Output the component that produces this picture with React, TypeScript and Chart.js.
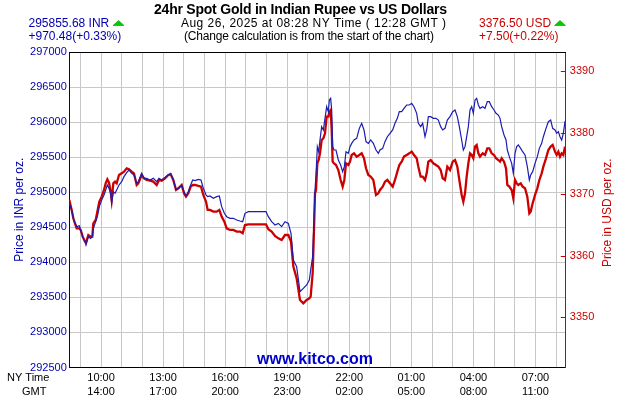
import React, { useEffect, useRef } from 'react';
import { Chart, registerables } from 'chart.js';

Chart.register(...registerables);

// minutes after the chart start (08:28 NY time)
const MINUTES = [
  0, 6.9, 11.7, 16.5, 21.4, 29.1, 33.0, 38.8, 45.5, 48.4,
  55.2, 61.9, 66.8, 69.7, 76.5, 81.3, 87.1, 93.9, 100.6, 105.5,
  110.3, 115.1, 120.0, 122.9, 127.7, 132.6, 137.4, 144.2, 151.9, 158.6,
  166.4, 173.2, 180.9, 187.6, 195.4, 200.2, 209.9, 216.7, 224.4, 234.1,
  243.7, 253.4, 260.2, 267.9, 277.6, 287.2, 294.0, 301.7, 309.5, 316.2,
  325.9, 332.7, 338.5, 345.2, 352.0, 357.8, 364.6, 374.2, 382.0, 388.7,
  396.5, 401.3, 408.1, 417.7, 427.4, 435.1, 441.9, 449.7, 456.4, 466.1,
  475.8, 485.4, 495.1, 502.8, 509.6, 519.3, 543.4, 570.5, 577.3, 586.9,
  596.6, 606.3, 615.9, 625.6, 635.3, 643.0, 649.8, 659.4,
  669.1, 678.8, 688.4, 696.2, 700.0, 705.8, 709.7, 712.6, 715.5, 719.4,
  723.2, 727.1, 731.9, 736.8, 741.6, 746.4, 751.3, 754.2, 758.0, 761.0,
  763.8, 767.7, 773.5, 780.3, 787.0, 792.8, 797.7, 802.5, 809.3, 814.1,
  819.0, 825.7, 833.5, 841.2, 848.0, 854.7, 860.5, 867.3, 874.1, 881.8,
  889.5, 896.3, 901.1, 908.9, 915.6, 922.4, 930.1, 937.9, 944.6, 951.4,
  957.2, 964.0, 970.7, 978.5, 986.2, 993.0, 999.7, 1007.5, 1012.3, 1019.1,
  1024.9, 1031.6, 1036.5, 1041.3, 1048.1, 1055.8, 1063.5, 1070.3, 1077.1, 1082.9,
  1089.6, 1096.4, 1104.2, 1111.9, 1118.7, 1125.4, 1131.2, 1138.0, 1142.8, 1147.7,
  1152.5, 1157.3, 1162.2, 1167.0, 1171.8, 1176.7, 1181.5, 1186.4, 1191.2, 1198.9,
  1205.7, 1212.4, 1218.2, 1225.0, 1231.8, 1237.6, 1244.3, 1249.2, 1254.0, 1260.8,
  1266.6, 1270.4, 1276.2, 1283.0, 1287.8, 1292.7, 1297.5, 1302.3, 1309.1, 1314.9,
  1321.7, 1328.4, 1334.2, 1338.1, 1343.9, 1350.7, 1357.4, 1363.3, 1370.0, 1374.9,
  1382.6, 1389.4, 1396.1, 1401.9, 1408.7, 1413.5, 1418.4, 1423.2, 1428.0, 1432.9,
  1437.7, 1440,
];

// gold price in INR per oz.
const INR = [
  294842, 294747, 294628, 294556, 294509, 294523, 294461, 294366, 294295, 294247,
  294366, 294342, 294366, 294485, 294580, 294651, 294794, 294889, 294960, 295032,
  295103, 295056, 294984, 294842, 295008, 294984, 295032, 295103, 295151, 295222,
  295279, 295317, 295269, 295246, 295127, 295151, 295269, 295198, 295198, 295174,
  295198, 295151, 295198, 295174, 295212, 295246, 295269, 295174, 295041, 295056,
  295103, 295008, 294946, 295008, 295103, 295174, 295165, 295184, 295174, 295056,
  294960, 294937, 294946, 294913, 294937, 294946, 294794, 294699, 294651, 294628,
  294628, 294604, 294590, 294580, 294699, 294723, 294723, 294723, 294651, 294580,
  294533, 294556, 294509, 294580, 294556, 294414, 294033, 293938,
  293582, 293629, 293677, 293748, 293891, 294081, 294604, 295032, 295246, 295650,
  295578, 295745, 295935, 295888, 296054, 296220, 296149, 296315, 296339, 296173,
  295650, 295602, 295602, 295460, 295388, 295293, 295365, 295578, 295555, 295650,
  295697, 295745, 295769, 295911, 295983, 295888, 295721, 295697, 295745, 295697,
  295602, 295555, 295602, 295626, 295721, 295792, 295840, 295888, 295983, 296054,
  296149, 296149, 296197, 296244, 296244, 296268, 296220, 296125, 295983, 295935,
  295983, 295792, 295888, 296078, 296078, 296054, 296054, 296030, 295935, 295888,
  295911, 296030, 296078, 296149, 296173, 296078, 295935, 295745, 295602, 295650,
  295792, 295935, 296173, 296220, 296125, 296315, 296339, 296244, 296197, 296220,
  296197, 296292, 296292, 296220, 296173, 296125, 296101, 296054, 295935, 295816,
  295745, 295602, 295507, 295412, 295269, 295555, 295650, 295674, 295626, 295578,
  295531, 295365, 295174, 295246, 295293, 295412, 295507, 295626, 295697, 295792,
  295911, 296006, 296030, 295911, 295888, 295840, 295864, 295792, 295745, 295840,
  296006, 296030,
];

// gold price in USD per oz.
const USD = [
  3369.05, 3367.42, 3366.06, 3365.25, 3364.43, 3364.43, 3364.16, 3363.07, 3362.26, 3362.09,
  3363.34, 3363.07, 3363.07, 3365.25, 3365.79, 3367.15, 3368.78, 3369.59, 3370.68, 3371.76,
  3372.42, 3371.87, 3370.41, 3369.05, 3371.76, 3372.04, 3371.76, 3373.12, 3373.39, 3373.66,
  3374.21, 3374.04, 3373.66, 3373.39, 3371.49, 3371.76, 3373.12, 3372.58, 3372.31, 3372.20,
  3372.04, 3371.49, 3372.31, 3372.20, 3372.58, 3373.12, 3373.23, 3372.31, 3370.68, 3370.95,
  3371.49, 3370.13, 3369.59, 3370.13, 3371.22, 3371.49, 3371.49, 3371.33, 3371.22, 3369.86,
  3368.78, 3367.42, 3367.42, 3367.15, 3367.15, 3367.42, 3366.33, 3365.52, 3364.43, 3364.16,
  3364.16, 3363.89, 3363.89, 3363.62, 3364.97, 3365.08, 3365.08, 3365.08, 3364.27, 3363.89,
  3363.18, 3362.80, 3362.53, 3363.34, 3363.34, 3362.26, 3358.19, 3356.28,
  3352.75, 3352.21, 3352.75, 3353.02, 3353.30, 3357.10, 3364.16, 3370.13, 3370.68, 3375.02,
  3375.56, 3376.65, 3378.82, 3379.10, 3379.91, 3382.63, 3382.63, 3383.44, 3383.71, 3380.45,
  3375.29, 3375.02, 3374.75, 3373.93, 3372.31, 3371.22, 3372.31, 3375.02, 3374.75, 3375.29,
  3376.38, 3376.65, 3376.11, 3376.38, 3376.65, 3375.84, 3374.21, 3373.12, 3372.85, 3372.31,
  3369.86, 3370.13, 3370.68, 3371.22, 3372.03, 3372.31, 3371.76, 3371.22, 3372.31, 3373.66,
  3374.75, 3375.29, 3376.11, 3376.38, 3376.65, 3376.92, 3376.38, 3375.84, 3374.48, 3372.85,
  3372.85, 3372.31, 3373.39, 3375.29, 3375.56, 3375.02, 3374.75, 3374.48, 3373.93, 3372.58,
  3372.31, 3374.48, 3373.93, 3375.29, 3375.56, 3374.48, 3372.31, 3369.86, 3368.77, 3370.13,
  3372.85, 3375.02, 3376.65, 3376.38, 3375.84, 3377.74, 3378.01, 3376.65, 3376.11, 3376.65,
  3376.38, 3377.47, 3377.47, 3376.65, 3376.38, 3375.84, 3375.56, 3375.29, 3375.84, 3375.29,
  3374.21, 3371.49, 3371.22, 3370.68, 3369.32, 3372.31, 3371.76, 3371.49, 3371.76, 3371.22,
  3370.95, 3369.59, 3366.87, 3367.15, 3368.50, 3369.86, 3370.95, 3372.31, 3373.39, 3374.48,
  3375.84, 3377.19, 3377.74, 3378.01, 3376.92, 3376.38, 3376.92, 3376.11, 3376.65, 3376.38,
  3377.74, 3377.74,
];

const INR_MIN = 292500;
const INR_MAX = 297000;
const INR_STEP = 500;
const USD_TICKS = [3350, 3360, 3370, 3380, 3390];
const START_INR = 294885.2;
const START_USD = 3369.0;
const TOTAL_MINUTES = 1440;
const FIRST_HOUR_MIN = 32; // 09:00 NY
const FIRST_LABEL_MIN = 92; // 10:00 NY
const NY_LABELS = ['10:00', '13:00', '16:00', '19:00', '22:00', '01:00', '04:00', '07:00'];
const GMT_LABELS = ['14:00', '17:00', '20:00', '23:00', '02:00', '05:00', '08:00', '11:00'];

const TITLE = '24hr Spot Gold in Indian Rupee vs US Dollars';
const SUBTITLE = 'Aug 26, 2025 at 08:28 NY Time ( 12:28 GMT )';
const NOTE = '(Change calculation is from the start of the chart)';
const INR_NOW = '295855.68 INR';
const INR_CHANGE = '+970.48(+0.33%)';
const USD_NOW = '3376.50 USD';
const USD_CHANGE = '+7.50(+0.22%)';
const SITE = 'www.kitco.com';

const FONT = '"Liberation Sans", Arial, Helvetica, sans-serif';
const BLUE = '#0000b0';
const LINE_BLUE = '#1c1cae';
const RED = '#cc0000';
const GRID = '#c8c8c8';

const RATE = START_INR / START_USD;
const USD_MIN = INR_MIN / RATE;
const USD_MAX = INR_MAX / RATE;

function triangle(ctx: CanvasRenderingContext2D, x: number, y: number) {
  ctx.save();
  ctx.beginPath();
  ctx.moveTo(x, y + 5);
  ctx.lineTo(x + 5.5, y);
  ctx.lineTo(x + 11, y + 5);
  ctx.closePath();
  ctx.fillStyle = '#00cc00';
  ctx.fill();
  ctx.strokeStyle = '#009900';
  ctx.lineWidth = 0.6;
  ctx.stroke();
  ctx.restore();
}

// draw text left-aligned at a fixed size, spacing letters so it spans [x0, x1]
function spacedText(ctx: CanvasRenderingContext2D, text: string, x0: number, x1: number, y: number, font: string) {
  const c: any = ctx;
  ctx.font = font;
  c.letterSpacing = '0px';
  const w = ctx.measureText(text).width;
  const sp = (x1 - x0 - w) / Math.max(1, text.length - 1);
  c.letterSpacing = `${sp.toFixed(3)}px`;
  ctx.textAlign = 'left';
  ctx.fillText(text, x0, y);
  c.letterSpacing = '0px';
}

const decor = {
  id: 'decor',
  afterDatasetsDraw(chart: any) {
    const { ctx, chartArea, scales } = chart;
    ctx.save();
    ctx.strokeStyle = RED;
    ctx.lineWidth = 1;
    USD_TICKS.forEach((v) => {
      const y = Math.round(scales.y2.getPixelForValue(v)) + 0.5;
      ctx.beginPath();
      ctx.moveTo(chartArea.right - 5, y);
      ctx.lineTo(chartArea.right, y);
      ctx.stroke();
    });
    ctx.strokeStyle = '#000000';
    ctx.beginPath();
    ctx.moveTo(chartArea.left, Math.round(chartArea.top) + 0.5);
    ctx.lineTo(chartArea.right, Math.round(chartArea.top) + 0.5);
    ctx.stroke();
    ctx.restore();
  },
  afterDraw(chart: any) {
    const { ctx, chartArea } = chart;
    ctx.save();
    ctx.textBaseline = 'middle';
    ctx.fillStyle = '#000000';
    spacedText(ctx, TITLE, 154, 447, 10, `bold 14px ${FONT}`);
    spacedText(ctx, SUBTITLE, 181, 446, 24, `12px ${FONT}`);
    spacedText(ctx, NOTE, 184, 434, 37, `12px ${FONT}`);
    ctx.font = `12px ${FONT}`;
    ctx.textAlign = 'left';
    ctx.fillStyle = BLUE;
    ctx.fillText(INR_NOW, 28.5, 24);
    ctx.fillText(INR_CHANGE, 28.5, 37);
    triangle(ctx, 113, 20.5);
    ctx.fillStyle = RED;
    ctx.fillText(USD_NOW, 479, 24);
    ctx.fillText(USD_CHANGE, 479, 37);
    triangle(ctx, 554.5, 20.5);
    ctx.fillStyle = '#000000';
    ctx.font = `11px ${FONT}`;
    ctx.fillText('NY Time', 7, 378);
    ctx.fillText('GMT', 22, 392);
    ctx.fillStyle = '#0000cc';
    ctx.font = `bold 16px ${FONT}`;
    ctx.textAlign = 'center';
    ctx.fillText(SITE, 315, 360);
    ctx.fillStyle = RED;
    ctx.font = `12px ${FONT}`;
    ctx.translate(607.5, (chartArea.top + chartArea.bottom) / 2 + 3);
    ctx.rotate(-Math.PI / 2);
    ctx.fillText('Price in USD per oz.', 0, 0);
    ctx.restore();
  },
};

export default function App() {
  const ref = useRef<HTMLCanvasElement | null>(null);

  useEffect(() => {
    if (!ref.current) return;
    const chart = new Chart(ref.current, {
      type: 'line',
      data: {
        datasets: [
          {
            label: 'INR',
            data: MINUTES.map((m, i) => ({ x: m, y: INR[i] })),
            borderColor: LINE_BLUE,
            borderWidth: 1.2,
            pointRadius: 0,
            tension: 0,
            yAxisID: 'y',
            order: 0,
          },
          {
            label: 'USD',
            data: MINUTES.map((m, i) => ({ x: m, y: USD[i] })),
            borderColor: RED,
            borderWidth: 2.3,
            pointRadius: 0,
            tension: 0,
            yAxisID: 'y2',
            order: 1,
          },
        ],
      },
      options: {
        responsive: false,
        animation: false,
        devicePixelRatio: 1,
        layout: { padding: { top: 52, left: 0, right: 0, bottom: 0 } },
        plugins: { legend: { display: false }, tooltip: { enabled: false }, title: { display: false } },
        scales: {
          x: {
            type: 'linear',
            min: 0,
            max: TOTAL_MINUTES,
            afterBuildTicks: (scale: any) => {
              const t = [];
              for (let m = FIRST_HOUR_MIN; m < TOTAL_MINUTES; m += 60) t.push({ value: m });
              scale.ticks = t;
            },
            afterFit: (scale: any) => {
              scale.height = 32.5;
            },
            grid: { color: GRID, drawTicks: false, lineWidth: 1 },
            border: { color: '#000000', width: 1 },
            ticks: {
              autoSkip: false,
              maxRotation: 0,
              padding: 4,
              color: '#000000',
              font: { family: FONT, size: 11, lineHeight: 1.25 },
              callback: (value: any) => {
                const k = (Number(value) - FIRST_LABEL_MIN) / 180;
                if (Number.isInteger(k) && k >= 0 && k < NY_LABELS.length) return [NY_LABELS[k], GMT_LABELS[k]];
                return '';
              },
            },
          },
          y: {
            type: 'linear',
            position: 'left',
            min: INR_MIN,
            max: INR_MAX,
            afterBuildTicks: (scale: any) => {
              const t = [];
              for (let v = INR_MIN; v <= INR_MAX; v += INR_STEP) t.push({ value: v });
              scale.ticks = t;
            },
            afterFit: (scale: any) => {
              scale.width = 69.3;
            },
            grid: { color: GRID, drawTicks: false },
            border: { color: '#000080', width: 1 },
            ticks: {
              padding: 2.5,
              color: BLUE,
              font: { family: FONT, size: 11 },
              callback: (v: any) => String(v),
            },
            title: {
              display: true,
              text: 'Price in INR per oz.',
              color: BLUE,
              font: { family: FONT, size: 12 },
              padding: { top: 12, bottom: 0 },
            },
          },
          y2: {
            type: 'linear',
            position: 'right',
            min: USD_MIN,
            max: USD_MAX,
            afterBuildTicks: (scale: any) => {
              scale.ticks = USD_TICKS.map((v) => ({ value: v }));
            },
            afterFit: (scale: any) => {
              scale.width = 64.2;
            },
            grid: { drawOnChartArea: false, drawTicks: false },
            border: { color: RED, width: 1 },
            ticks: {
              padding: 4,
              color: RED,
              font: { family: FONT, size: 11 },
              callback: (v: any) => String(v),
            },
          },
        },
      },
      plugins: [decor],
    });
    return () => chart.destroy();
  }, []);

  return (
    <div style={{ position: 'absolute', left: 0, top: 0, width: 630, height: 400, background: '#ffffff' }}>
      <canvas ref={ref} width={630} height={400} style={{ display: 'block' }} />
    </div>
  );
}
